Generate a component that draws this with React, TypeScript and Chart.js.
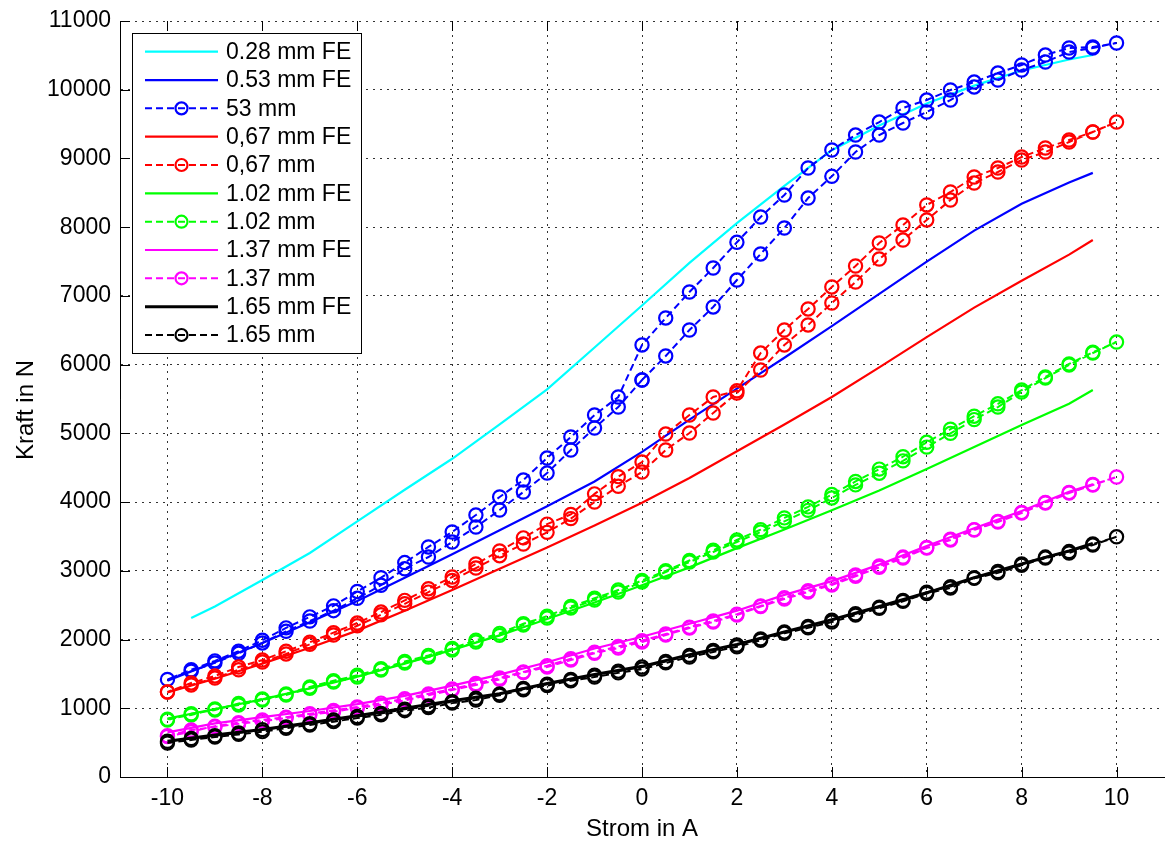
import React, { useEffect, useRef } from "react";
import { Chart, registerables } from "chart.js";

Chart.register(...registerables);

// ---------- data ----------
const current = [-10, -9.5, -9, -8.5, -8, -7.5, -7, -6.5, -6, -5.5, -5, -4.5, -4, -3.5, -3, -2.5, -2, -1.5, -1, -0.5, 0, 0.5, 1, 1.5, 2, 2.5, 3, 3.5, 4, 4.5, 5, 5.5, 6, 6.5, 7, 7.5, 8, 8.5, 9, 9.5, 10];
const feCurrent = [-10, -9, -8, -7, -6, -5, -4, -3, -2, -1, 0, 1, 2, 3, 4, 5, 6, 7, 8, 9, 9.5];
const feCurrent028 = [-9.5, -9, -8, -7, -6, -5, -4, -3, -2, -1, 0, 1, 2, 3, 4, 5, 6, 7, 8, 9, 9.5];

const fe028 = [2313, 2480, 2866, 3260, 3720, 4180, 4630, 5130, 5640, 6250, 6860, 7480, 8060, 8600, 9120, 9480, 9800, 10060, 10280, 10440, 10505];
const fe053 = [1400, 1670, 1950, 2250, 2560, 2900, 3240, 3590, 3940, 4300, 4730, 5200, 5650, 6100, 6560, 7030, 7500, 7950, 8340, 8650, 8790];
const fe067 = [1230, 1430, 1650, 1880, 2130, 2420, 2720, 3030, 3340, 3660, 3990, 4350, 4740, 5130, 5530, 5960, 6400, 6830, 7220, 7600, 7813];
const fe102 = [850, 990, 1130, 1290, 1460, 1650, 1850, 2060, 2300, 2540, 2790, 3050, 3330, 3600, 3880, 4170, 4480, 4800, 5120, 5430, 5631];
const fe137 = [650, 780, 870, 960, 1060, 1180, 1330, 1490, 1670, 1870, 2040, 2230, 2420, 2650, 2850, 3090, 3360, 3620, 3870, 4150, 4260];
const fe165 = [520, 610, 690, 790, 890, 1000, 1110, 1210, 1360, 1490, 1610, 1780, 1930, 2110, 2290, 2480, 2680, 2900, 3100, 3290, 3400];

const m053Rise = [1400, 1540, 1660, 1800, 1950, 2120, 2270, 2420, 2600, 2790, 3030, 3201, 3419, 3637, 3885, 4147, 4423, 4758, 5078, 5383, 5776, 6126, 6504, 6839, 7231, 7610, 7988, 8424, 8740, 9094, 9341, 9516, 9676, 9850, 10040, 10141, 10287, 10403, 10549, 10607, 10680];
const m053Fall = [1420, 1560, 1690, 1830, 1990, 2170, 2330, 2490, 2700, 2900, 3120, 3347, 3565, 3812, 4074, 4321, 4641, 4947, 5267, 5529, 6286, 6679, 7057, 7406, 7780, 8148, 8468, 8861, 9123, 9341, 9530, 9734, 9850, 9996, 10112, 10243, 10360, 10505, 10607, 10621, 10680];

const m067Rise = [1237, 1339, 1440, 1560, 1673, 1790, 1930, 2066, 2200, 2360, 2520, 2690, 2860, 3040, 3220, 3390, 3560, 3760, 4000, 4230, 4437, 4758, 5005, 5296, 5587, 5922, 6286, 6577, 6897, 7202, 7537, 7813, 8105, 8395, 8643, 8803, 8977, 9094, 9239, 9385, 9530];
const m067Fall = [1237, 1368, 1470, 1600, 1702, 1830, 1960, 2100, 2240, 2400, 2570, 2740, 2910, 3100, 3290, 3480, 3680, 3820, 4120, 4370, 4583, 4990, 5267, 5529, 5620, 6169, 6504, 6810, 7130, 7435, 7770, 8032, 8323, 8512, 8730, 8861, 9021, 9152, 9268, 9385, 9530];

const m102Rise = [840, 902, 990, 1048, 1120, 1193, 1290, 1382, 1455, 1557, 1659, 1746, 1848, 1964, 2060, 2212, 2313, 2459, 2575, 2692, 2837, 2983, 3128, 3274, 3419, 3565, 3720, 3880, 4060, 4250, 4420, 4600, 4800, 5000, 5200, 5383, 5602, 5805, 5995, 6169, 6329];
const m102Fall = [830, 920, 975, 1070, 1135, 1210, 1310, 1400, 1480, 1575, 1680, 1770, 1870, 1990, 2090, 2230, 2340, 2480, 2600, 2720, 2860, 3000, 3150, 3300, 3450, 3600, 3770, 3930, 4110, 4300, 4480, 4660, 4870, 5060, 5250, 5430, 5630, 5820, 6010, 6180, 6329];

const m137Rise = [600, 684, 728, 775, 810, 858, 902, 950, 1004, 1050, 1115, 1190, 1265, 1340, 1420, 1520, 1600, 1700, 1800, 1877, 1964, 2066, 2168, 2255, 2357, 2480, 2590, 2692, 2794, 2920, 3050, 3186, 3332, 3448, 3594, 3710, 3841, 3987, 4132, 4249, 4365];
const m137Fall = [590, 660, 740, 790, 830, 870, 920, 970, 1020, 1075, 1140, 1210, 1280, 1360, 1440, 1530, 1620, 1720, 1815, 1900, 1985, 2080, 2180, 2270, 2370, 2490, 2610, 2710, 2810, 2940, 3070, 3200, 3340, 3460, 3600, 3720, 3850, 3995, 4140, 4255, 4365];

const m165Rise = [495, 538, 582, 620, 660, 710, 757, 805, 858, 905, 965, 1010, 1075, 1120, 1190, 1270, 1330, 1400, 1455, 1515, 1570, 1660, 1745, 1820, 1895, 1990, 2090, 2170, 2255, 2355, 2455, 2555, 2670, 2750, 2890, 2970, 3080, 3185, 3260, 3375, 3495];
const m165Fall = [520, 560, 600, 640, 690, 730, 775, 830, 880, 925, 985, 1035, 1095, 1145, 1210, 1290, 1350, 1420, 1480, 1540, 1600, 1680, 1770, 1840, 1920, 2010, 2110, 2190, 2280, 2375, 2470, 2570, 2690, 2770, 2900, 2990, 3100, 3200, 3280, 3390, 3495];

const xTickValues = [-10, -8, -6, -4, -2, 0, 2, 4, 6, 8, 10];
const yTickValues = [0, 1000, 2000, 3000, 4000, 5000, 6000, 7000, 8000, 9000, 10000, 11000];

const xTitle = "Strom in A";
const yTitle = "Kraft in N";

// ---------- helpers ----------
const pts = (xs: number[], ys: number[]) => xs.map((x, i) => ({ x, y: ys[i] }));
const loop = (rise: number[], fall: number[]) => {
  const r = pts(current, rise);
  const f = pts(current, fall);
  return [...r, ...f.slice(0, f.length - 1).reverse()];
};
const loopFromZero = (rise: number[], fall: number[]) => {
  const r = pts(current, rise);
  const f = pts(current, fall);
  const zi = current.indexOf(0);
  return [...r.slice(zi), ...f.slice(0, f.length - 1).reverse(), ...r.slice(1, zi + 1)];
};

const FONT = "'Liberation Sans', Arial, Helvetica, sans-serif";

const solid = (label: string, color: string, xs: number[], ys: number[], width = 2.2) => ({
  label,
  data: pts(xs, ys),
  borderColor: color,
  backgroundColor: color,
  borderWidth: width,
  pointRadius: 0,
  tension: 0,
  fill: false,
});
const measured = (label: string, color: string, data: { x: number; y: number }[]) => ({
  label,
  data,
  borderColor: color,
  backgroundColor: color,
  borderWidth: 2,
  borderDash: [7, 4],
  pointRadius: 6.6,
  pointBorderWidth: 2.2,
  pointBorderColor: color,
  pointBackgroundColor: "rgba(0,0,0,0)",
  pointStyle: "circle",
  tension: 0,
  fill: false,
});

const innerTicksPlugin = {
  id: "innerTicks",
  afterDatasetsDraw(chart: any) {
    const { ctx, chartArea, scales } = chart;
    const { left, right, top, bottom } = chartArea;
    ctx.save();
    ctx.strokeStyle = "#000";
    ctx.lineWidth = 1;
    ctx.setLineDash([]);
    ctx.beginPath();
    xTickValues.forEach((v) => {
      const px = Math.round(scales.x.getPixelForValue(v)) + 0.5;
      ctx.moveTo(px, bottom);
      ctx.lineTo(px, bottom - 10);
      ctx.moveTo(px, top);
      ctx.lineTo(px, top + 10);
    });
    yTickValues.forEach((v) => {
      const py = Math.round(scales.y.getPixelForValue(v)) + 0.5;
      ctx.moveTo(left, py);
      ctx.lineTo(left + 10, py);
    });
    ctx.stroke();
    ctx.beginPath();
    ctx.moveTo(left + 0.5, top);
    ctx.lineTo(left + 0.5, bottom + 0.5);
    ctx.lineTo(right, bottom + 0.5);
    ctx.stroke();
    ctx.restore();
  },
};

const legendTitlePlugin = {
  id: "matlabLegend",
  afterDraw(chart: any) {
    const { ctx, chartArea } = chart;
    ctx.save();
    // y-axis title
    ctx.fillStyle = "#000";
    ctx.font = `24px ${FONT}`;
    ctx.textAlign = "center";
    ctx.textBaseline = "middle";
    ctx.translate(26, (chartArea.top + chartArea.bottom) / 2 + 11);
    ctx.rotate(-Math.PI / 2);
    ctx.fillText(yTitle, 0, 0);
    ctx.restore();

    // legend
    ctx.save();
    const left = chartArea.left + 12;
    const top = chartArea.top + 12;
    const w = 229;
    const h = 320;
    ctx.fillStyle = "#fff";
    ctx.fillRect(left, top, w, h);
    ctx.strokeStyle = "#000";
    ctx.lineWidth = 1;
    ctx.strokeRect(left + 0.5, top + 0.5, w, h);
    chart.data.datasets.forEach((ds: any, i: number) => {
      const y = top + 18.7 + i * 28.33;
      const x0 = left + 13;
      const x1 = left + 86;
      ctx.strokeStyle = ds.borderColor;
      ctx.lineWidth = ds.borderWidth;
      ctx.setLineDash(ds.borderDash || []);
      ctx.beginPath();
      ctx.moveTo(x0, y);
      ctx.lineTo(x1, y);
      ctx.stroke();
      if (ds.pointRadius > 0) {
        ctx.setLineDash([]);
        ctx.lineWidth = ds.pointBorderWidth;
        ctx.beginPath();
        ctx.arc((x0 + x1) / 2, y, 6, 0, Math.PI * 2);
        ctx.stroke();
      }
      ctx.setLineDash([]);
      ctx.fillStyle = "#000";
      ctx.font = `23px ${FONT}`;
      ctx.textAlign = "left";
      ctx.textBaseline = "middle";
      ctx.fillText(ds.label, left + 94, y + 1);
    });
    ctx.restore();
  },
};

export default function App() {
  const canvasRef = useRef<HTMLCanvasElement | null>(null);

  useEffect(() => {
    const canvas = canvasRef.current;
    if (!canvas) return;
    const datasets: any[] = [
      solid("0.28 mm FE", "#00FFFF", feCurrent028, fe028),
      solid("0.53 mm FE", "#0000FF", feCurrent, fe053),
      measured("53 mm", "#0000FF", loopFromZero(m053Rise, m053Fall)),
      solid("0,67 mm FE", "#FF0000", feCurrent, fe067),
      measured("0,67 mm", "#FF0000", loop(m067Rise, m067Fall)),
      solid("1.02 mm FE", "#00FF00", feCurrent, fe102),
      measured("1.02 mm", "#00FF00", loop(m102Rise, m102Fall)),
      solid("1.37 mm FE", "#FF00FF", feCurrent, fe137),
      measured("1.37 mm", "#FF00FF", loop(m137Rise, m137Fall)),
      solid("1.65 mm FE", "#000000", feCurrent, fe165, 3),
      measured("1.65 mm", "#000000", loop(m165Rise, m165Fall)),
    ];
    const n = datasets.length;
    datasets.forEach((d, i) => (d.order = n - i));

    const chart = new Chart(canvas, {
      type: "line",
      data: { datasets },
      options: {
        animation: false,
        responsive: false,
        devicePixelRatio: 1,
        events: [],
        layout: { autoPadding: false, padding: { top: 21, right: 1, left: 0, bottom: 0 } },
        plugins: {
          legend: { display: false },
          tooltip: { enabled: false },
          title: { display: false },
        },
        scales: {
          x: {
            type: "linear",
            min: -11,
            max: 11,
            afterBuildTicks: (scale: any) => {
              scale.ticks = xTickValues.map((v) => ({ value: v }));
            },
            afterFit: (scale: any) => {
              scale.height = 64;
              scale.paddingLeft = 0;
              scale.paddingRight = 0;
            },
            ticks: {
              color: "#000",
              font: { family: FONT, size: 23 },
              padding: 8,
              maxRotation: 0,
              autoSkip: false,
              callback: (v: any) => String(v),
            },
            grid: {
              color: "rgba(0,0,0,0.8)",
              lineWidth: 1,
              drawTicks: false,
            },
            border: { display: true, color: "#000", width: 1, dash: [2, 5] },
            title: {
              display: true,
              text: xTitle,
              color: "#000",
              font: { family: FONT, size: 24, lineHeight: 1 },
              padding: { top: 0, bottom: 0 },
            },
          },
          y: {
            type: "linear",
            min: 0,
            max: 11000,
            afterBuildTicks: (scale: any) => {
              scale.ticks = yTickValues.map((v) => ({ value: v }));
            },
            afterFit: (scale: any) => {
              scale.width = 120;
              scale.paddingTop = 0;
              scale.paddingBottom = 0;
            },
            ticks: {
              color: "#000",
              font: { family: FONT, size: 23 },
              padding: 9,
              autoSkip: false,
              callback: (v: any) => String(v),
            },
            grid: {
              color: "rgba(0,0,0,0.8)",
              lineWidth: 1,
              drawTicks: false,
            },
            border: { display: true, color: "#000", width: 1, dash: [2, 5] },
          },
        },
      } as any,
      plugins: [innerTicksPlugin, legendTitlePlugin],
    });
    return () => chart.destroy();
  }, []);

  return (
    <div style={{ position: "fixed", left: 0, top: 0, width: 1165, height: 841, background: "#fff" }}>
      <canvas ref={canvasRef} width={1165} height={841} style={{ display: "block" }} />
    </div>
  );
}
